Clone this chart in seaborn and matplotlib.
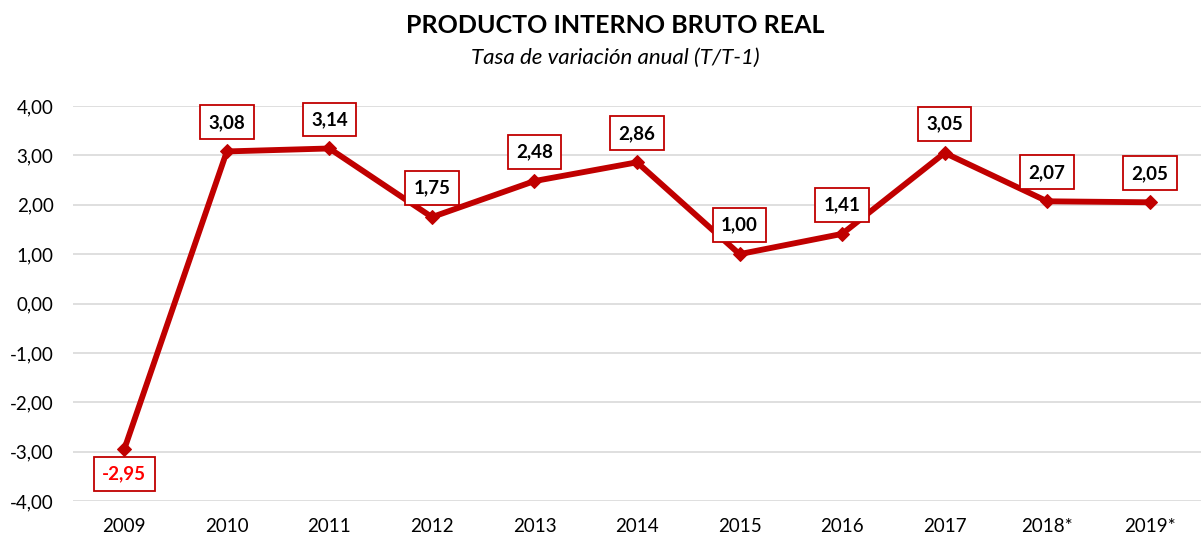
import matplotlib
matplotlib.use("Agg")
import matplotlib.pyplot as plt
import seaborn as sns
import pandas as pd

# datos del grafico
anios = ["2009", "2010", "2011", "2012", "2013", "2014", "2015", "2016", "2017", "2018*", "2019*"]
tasa = [-2.95, 3.08, 3.14, 1.75, 2.48, 2.86, 1.00, 1.41, 3.05, 2.07, 2.05]
yticks = [-4, -3, -2, -1, 0, 1, 2, 3, 4]

rojo = "#c00000"

sns.set_style("whitegrid")
plt.rcParams['font.family'] = ['Lato', 'DejaVu Sans']
plt.rcParams['text.color'] = 'black'
plt.rcParams['xtick.color'] = 'black'
plt.rcParams['ytick.color'] = 'black'

df = pd.DataFrame({"anio": anios, "tasa": tasa})
df["pos"] = range(len(df))

fig = plt.figure(figsize=(12.01, 5.37), dpi=100)
ax = fig.add_axes([0.0608, 0.067, 0.9392, 0.7356])

sns.lineplot(data=df, x="pos", y="tasa", ax=ax, color=rojo, linewidth=4.2,
             marker="D", markersize=7.5, markeredgecolor=rojo)

ax.set_xlim(-0.5, len(anios) - 0.5)
ax.set_ylim(-4, 4)
ax.set_xticks(range(len(anios)))
ax.set_xticklabels(anios, fontsize=13.5)
ax.set_yticks(yticks)
ax.set_yticklabels([f"{v:.2f}".replace(".", ",") for v in yticks], fontsize=13.5)
ax.set_xlabel("")
ax.set_ylabel("")
ax.grid(axis="x", visible=False)
ax.grid(axis="y", color="#d9d9d9", linewidth=1.2)
for s in ax.spines.values():
    s.set_visible(False)
ax.tick_params(axis="x", length=0, pad=12)
ax.tick_params(axis="y", length=0, pad=14)

# etiquetas de datos
for i, v in enumerate(tasa):
    txt = f"{v:.2f}".replace(".", ",")
    if v < 0:
        off, col = -25, "red"
    else:
        off, col = 29, "black"
    ax.annotate(txt, (i, v), xytext=(0, off), textcoords="offset pixels",
                ha="center", va="center", fontsize=13.5, fontweight="bold", color=col,
                bbox=dict(boxstyle="square,pad=0.45", fc="white", ec=rojo, lw=1.3))

fig.text(0.512, 0.952, "PRODUCTO INTERNO BRUTO REAL", ha="center", va="center",
         fontsize=18, fontweight="bold")
fig.text(0.512, 0.892, "Tasa de variación anual (T/T-1)", ha="center", va="center",
         fontsize=16, fontstyle="italic")

fig.savefig("out.png", dpi=100)
